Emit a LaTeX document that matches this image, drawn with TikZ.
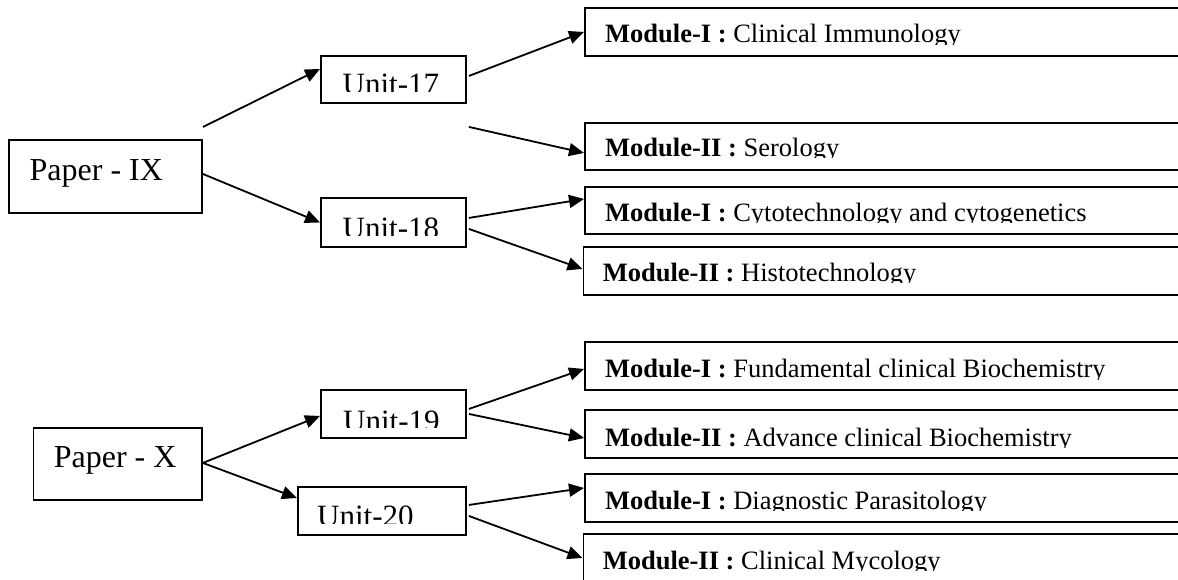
\documentclass[tikz,border=0pt]{standalone}
\usepackage{fontspec}
\setmainfont{Liberation Serif}
\usetikzlibrary{arrows.meta,calc}
\newcommand\cliptext[7]{\begin{scope}\clip (#3-8,#5) rectangle (1178,#6); \node[#2] (#1) at (#3,#4) {#7};\end{scope}}
\begin{document}
\begin{tikzpicture}[x=1pt,y=-1pt,
  box/.style={draw, line width=1.9pt, inner sep=0pt, anchor=north west, minimum height=48pt},
  modbox/.style={box, minimum width=616pt},
  arr/.style={line width=1.8pt, -{Triangle[length=15pt,width=13pt]}},
  papertxt/.style={font=\fontsize{32}{38}\selectfont, inner sep=0pt, anchor=base west},
  unittxt/.style={font=\fontsize{31}{36}\selectfont, inner sep=0pt, anchor=base west},
  modtxt/.style={font=\fontsize{26.5}{32}\selectfont, inner sep=0pt, anchor=base west}]
\useasboundingbox (0,0) rectangle (1178,579);
\clip (0,0) rectangle (1178,579);
% boxes
\node[box, minimum width=192.6pt, minimum height=73pt] (p9) at (8.4,139) {};
\node[box, minimum width=145pt, minimum height=47pt] (u17) at (320,55) {};
\node[box, minimum width=145pt, minimum height=49pt] (u18) at (320,197) {};
\node[modbox] (m1) at (584,7) {};
\node[modbox, minimum height=47pt] (m2) at (584,122) {};
\node[modbox, minimum height=47pt] (m3) at (584,186) {};
\node[modbox] (m4) at (582.5,246) {};
\node[box, minimum width=168.5pt, minimum height=72pt] (p10) at (32.5,427) {};
\node[box, minimum width=145pt] (u19) at (320,389) {};
\node[box, minimum width=168pt] (u20) at (297,486) {};
\node[modbox] (m5) at (584,341) {};
\node[modbox] (m6) at (584,409) {};
\node[modbox] (m7) at (584,473) {};
\node[modbox] (m8) at (582.5,533) {};
% texts
\node[papertxt] (t9) at (29.5,180) {Paper - IX};
\node[papertxt] (t10) at (53.6,467) {Paper - X};
\cliptext{t17}{unittxt}{342.5}{94.5}{56}{91.7}{Unit-17}
\cliptext{t18}{unittxt}{342.5}{238}{198}{235}{Unit-18}
\cliptext{t19}{unittxt}{343}{431}{390}{427}{Unit-19}
\cliptext{t20}{unittxt}{317}{526}{487}{523}{Unit-20}
\cliptext{tm1}{modtxt}{605}{42.6}{8}{44.1}{\textbf{Module-I :} Clinical Immunology}
\cliptext{tm2}{modtxt}{605}{156}{123}{157.5}{\textbf{Module-II :} Serology}
\cliptext{tm3}{modtxt}{605}{221}{187}{222.5}{\textbf{Module-I :} Cytotechnology and cytogenetics}
\cliptext{tm4}{modtxt}{602.6}{281}{247}{282.5}{\textbf{Module-II :} Histotechnology}
\cliptext{tm5}{modtxt}{605}{377.6}{342}{379.1}{\textbf{Module-I :} Fundamental clinical Biochemistry}
\cliptext{tm6}{modtxt}{605}{446}{410}{447.5}{\textbf{Module-II :} Advance clinical Biochemistry}
\cliptext{tm7}{modtxt}{605}{509.3}{474}{510.8}{\textbf{Module-I :} Diagnostic Parasitology}
\cliptext{tm8}{modtxt}{602.6}{569.3}{534}{570.8}{\textbf{Module-II :} Clinical Mycology}
% connectors
\draw[arr] ($(p9.north east)+(0,-12)$) -- ($(u17.west)+(0,-10.5)$);
\draw[arr] ($(p9.east)+(0,-2.5)$) -- (u18.west);
\draw[arr] ($(u17.east)+(2,-3.5)$) -- (m1.west);
\draw[arr] ($(u17.south east)+(2,23)$) -- ($(m2.west)+(0,6.5)$);
\draw[arr] ($(u18.east)+(2,-4.5)$) -- ($(m3.west)+(0,-11.5)$);
\draw[arr] ($(u18.east)+(2,6.5)$) -- ($(m4.west)+(0,-2)$);
\draw[arr] ($(p10.east)+(0,-1)$) -- ($(u19.west)+(0,2)$);
\draw[arr] ($(p10.east)+(0,-1)$) -- ($(u20.west)+(0,-13)$);
\draw[arr] ($(u19.east)+(2,-5)$) -- ($(m5.west)+(0,3)$);
\draw[arr] ($(u19.east)+(2,0)$) -- ($(m6.west)+(0,4)$);
\draw[arr] ($(u20.east)+(2,-6)$) -- ($(m7.west)+(0,-10)$);
\draw[arr] ($(u20.east)+(2,5)$) -- (m8.west);
\end{tikzpicture}
\end{document}
